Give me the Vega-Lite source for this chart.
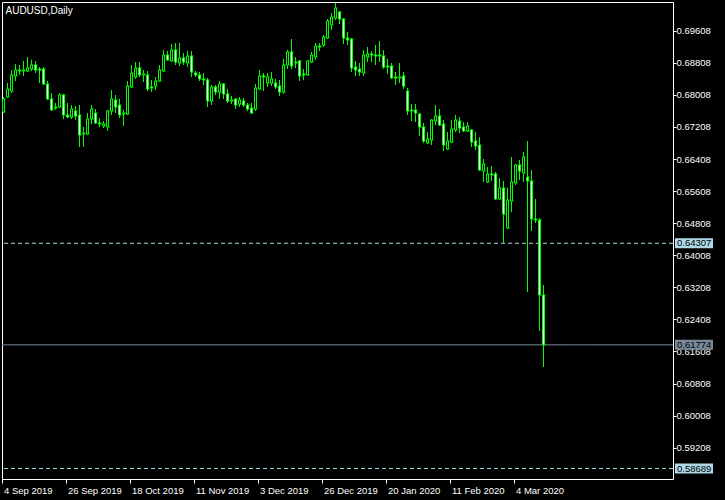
{
  "$schema": "https://vega.github.io/schema/vega-lite/v6.json",
  "width": 671,
  "height": 477,
  "autosize": {"type": "none"},
  "padding": {"left": 2, "top": 2, "right": 52, "bottom": 21},
  "background": "#000000",
  "title": {"text": "AUDUSD,Daily", "anchor": "start", "offset": -11, "dx": 4, "dy": 11, "baseline": "alphabetic", "color": "#FFFFFF", "fontSize": 10, "fontWeight": "normal", "font": "Liberation Sans, sans-serif"},
  "config": {
    "view": {"stroke": "#FFFFFF", "strokeWidth": 1, "fill": "#000000"},
    "axis": {"domain": false, "grid": false, "labelColor": "#FFFFFF", "tickColor": "#FFFFFF", "tickWidth": 1, "labelFont": "Liberation Sans, sans-serif", "labelFontSize": 9.5, "titleColor": "#FFFFFF", "labelOverlap": false},
    "axisX": {"tickSize": 4, "labelAlign": "left", "labelBaseline": "top", "labelPadding": 2, "labelAngle": 0, "labelOverlap": false, "labelFlush": false, "bandPosition": 0.2},
    "axisY": {"tickSize": 3, "labelPadding": 0, "labelOverlap": false, "labelFlush": false, "tickCount": 30}
  },
  "datasets": {
    "levels": [
      {"level": 0.64307, "line": "dash"},
      {"level": 0.61774, "line": "solid"},
      {"level": 0.58689, "line": "dash"}
    ],
    "candles": [
      {"date":"2019-09-04","open":0.67581,"high":0.67955,"low":0.67556,"close":0.67905},
      {"date":"2019-09-05","open":0.67955,"high":0.68304,"low":0.67930,"close":0.68154},
      {"date":"2019-09-06","open":0.68104,"high":0.68628,"low":0.68054,"close":0.68504},
      {"date":"2019-09-09","open":0.68479,"high":0.68778,"low":0.68354,"close":0.68628},
      {"date":"2019-09-10","open":0.68628,"high":0.68753,"low":0.68504,"close":0.68603},
      {"date":"2019-09-11","open":0.68603,"high":0.68853,"low":0.68479,"close":0.68628},
      {"date":"2019-09-12","open":0.68603,"high":0.68952,"low":0.68578,"close":0.68678},
      {"date":"2019-09-13","open":0.68653,"high":0.68878,"low":0.68603,"close":0.68753},
      {"date":"2019-09-16","open":0.68753,"high":0.68853,"low":0.68553,"close":0.68628},
      {"date":"2019-09-17","open":0.68653,"high":0.68703,"low":0.68304,"close":0.68628},
      {"date":"2019-09-18","open":0.68653,"high":0.68703,"low":0.68254,"close":0.68279},
      {"date":"2019-09-19","open":0.68279,"high":0.68354,"low":0.67880,"close":0.67905},
      {"date":"2019-09-20","open":0.67905,"high":0.68054,"low":0.67606,"close":0.67631},
      {"date":"2019-09-23","open":0.67680,"high":0.67805,"low":0.67631,"close":0.67705},
      {"date":"2019-09-24","open":0.67705,"high":0.68054,"low":0.67680,"close":0.68005},
      {"date":"2019-09-25","open":0.68005,"high":0.68030,"low":0.67406,"close":0.67506},
      {"date":"2019-09-26","open":0.67506,"high":0.67805,"low":0.67431,"close":0.67456},
      {"date":"2019-09-27","open":0.67456,"high":0.67755,"low":0.67406,"close":0.67655},
      {"date":"2019-09-30","open":0.67606,"high":0.67730,"low":0.67381,"close":0.67481},
      {"date":"2019-10-01","open":0.67506,"high":0.67755,"low":0.66708,"close":0.67007},
      {"date":"2019-10-02","open":0.67032,"high":0.67206,"low":0.66708,"close":0.67057},
      {"date":"2019-10-03","open":0.67032,"high":0.67556,"low":0.67007,"close":0.67406},
      {"date":"2019-10-04","open":0.67406,"high":0.67755,"low":0.67281,"close":0.67655},
      {"date":"2019-10-07","open":0.67556,"high":0.67655,"low":0.67281,"close":0.67306},
      {"date":"2019-10-08","open":0.67306,"high":0.67431,"low":0.67206,"close":0.67281},
      {"date":"2019-10-09","open":0.67231,"high":0.67356,"low":0.67181,"close":0.67281},
      {"date":"2019-10-10","open":0.67206,"high":0.67631,"low":0.67107,"close":0.67606},
      {"date":"2019-10-11","open":0.67606,"high":0.68129,"low":0.67506,"close":0.67905},
      {"date":"2019-10-14","open":0.67880,"high":0.68005,"low":0.67556,"close":0.67705},
      {"date":"2019-10-15","open":0.67755,"high":0.67905,"low":0.67431,"close":0.67506},
      {"date":"2019-10-16","open":0.67531,"high":0.67631,"low":0.67231,"close":0.67556},
      {"date":"2019-10-17","open":0.67531,"high":0.68354,"low":0.67506,"close":0.68229},
      {"date":"2019-10-18","open":0.68204,"high":0.68753,"low":0.68179,"close":0.68553},
      {"date":"2019-10-21","open":0.68454,"high":0.68828,"low":0.68404,"close":0.68678},
      {"date":"2019-10-22","open":0.68678,"high":0.68828,"low":0.68454,"close":0.68504},
      {"date":"2019-10-23","open":0.68504,"high":0.68628,"low":0.68329,"close":0.68528},
      {"date":"2019-10-24","open":0.68504,"high":0.68603,"low":0.68104,"close":0.68154},
      {"date":"2019-10-25","open":0.68204,"high":0.68379,"low":0.68079,"close":0.68179},
      {"date":"2019-10-28","open":0.68229,"high":0.68454,"low":0.68129,"close":0.68354},
      {"date":"2019-10-29","open":0.68354,"high":0.68753,"low":0.68329,"close":0.68628},
      {"date":"2019-10-30","open":0.68603,"high":0.69127,"low":0.68578,"close":0.69002},
      {"date":"2019-10-31","open":0.69002,"high":0.69102,"low":0.68853,"close":0.68878},
      {"date":"2019-11-01","open":0.68853,"high":0.69277,"low":0.68828,"close":0.69127},
      {"date":"2019-11-04","open":0.69127,"high":0.69302,"low":0.68753,"close":0.68828},
      {"date":"2019-11-05","open":0.68803,"high":0.69302,"low":0.68728,"close":0.68927},
      {"date":"2019-11-06","open":0.68927,"high":0.69052,"low":0.68753,"close":0.68828},
      {"date":"2019-11-07","open":0.68803,"high":0.69102,"low":0.68703,"close":0.68977},
      {"date":"2019-11-08","open":0.68977,"high":0.69102,"low":0.68454,"close":0.68578},
      {"date":"2019-11-11","open":0.68553,"high":0.68603,"low":0.68454,"close":0.68504},
      {"date":"2019-11-12","open":0.68504,"high":0.68578,"low":0.68354,"close":0.68404},
      {"date":"2019-11-13","open":0.68404,"high":0.68553,"low":0.68254,"close":0.68379},
      {"date":"2019-11-14","open":0.68379,"high":0.68429,"low":0.67705,"close":0.67855},
      {"date":"2019-11-15","open":0.67855,"high":0.68254,"low":0.67755,"close":0.68204},
      {"date":"2019-11-18","open":0.68204,"high":0.68254,"low":0.68005,"close":0.68079},
      {"date":"2019-11-19","open":0.68079,"high":0.68354,"low":0.67905,"close":0.68279},
      {"date":"2019-11-20","open":0.68279,"high":0.68304,"low":0.67905,"close":0.68030},
      {"date":"2019-11-21","open":0.68030,"high":0.68154,"low":0.67805,"close":0.67855},
      {"date":"2019-11-22","open":0.67855,"high":0.67980,"low":0.67780,"close":0.67880},
      {"date":"2019-11-25","open":0.67905,"high":0.67930,"low":0.67655,"close":0.67755},
      {"date":"2019-11-26","open":0.67780,"high":0.67955,"low":0.67705,"close":0.67880},
      {"date":"2019-11-27","open":0.67855,"high":0.67930,"low":0.67705,"close":0.67755},
      {"date":"2019-11-28","open":0.67755,"high":0.67805,"low":0.67606,"close":0.67655},
      {"date":"2019-11-29","open":0.67680,"high":0.67805,"low":0.67531,"close":0.67556},
      {"date":"2019-12-02","open":0.67655,"high":0.68279,"low":0.67606,"close":0.68179},
      {"date":"2019-12-03","open":0.68154,"high":0.68628,"low":0.68129,"close":0.68479},
      {"date":"2019-12-04","open":0.68479,"high":0.68553,"low":0.68104,"close":0.68454},
      {"date":"2019-12-05","open":0.68304,"high":0.68553,"low":0.68204,"close":0.68454},
      {"date":"2019-12-06","open":0.68304,"high":0.68578,"low":0.68229,"close":0.68404},
      {"date":"2019-12-09","open":0.68304,"high":0.68404,"low":0.68154,"close":0.68204},
      {"date":"2019-12-10","open":0.68229,"high":0.68379,"low":0.67980,"close":0.68079},
      {"date":"2019-12-11","open":0.68079,"high":0.68903,"low":0.68030,"close":0.68753},
      {"date":"2019-12-12","open":0.68753,"high":0.69127,"low":0.68653,"close":0.69077},
      {"date":"2019-12-13","open":0.69077,"high":0.69401,"low":0.68653,"close":0.68728},
      {"date":"2019-12-16","open":0.68803,"high":0.68952,"low":0.68678,"close":0.68828},
      {"date":"2019-12-17","open":0.68853,"high":0.68878,"low":0.68354,"close":0.68479},
      {"date":"2019-12-18","open":0.68528,"high":0.68653,"low":0.68379,"close":0.68504},
      {"date":"2019-12-19","open":0.68504,"high":0.68878,"low":0.68479,"close":0.68853},
      {"date":"2019-12-20","open":0.68828,"high":0.69077,"low":0.68803,"close":0.69002},
      {"date":"2019-12-23","open":0.68952,"high":0.69302,"low":0.68878,"close":0.69227},
      {"date":"2019-12-24","open":0.69227,"high":0.69302,"low":0.69102,"close":0.69202},
      {"date":"2019-12-26","open":0.69252,"high":0.69501,"low":0.69202,"close":0.69451},
      {"date":"2019-12-27","open":0.69426,"high":0.69900,"low":0.69401,"close":0.69850},
      {"date":"2019-12-30","open":0.69751,"high":0.70050,"low":0.69626,"close":0.69950},
      {"date":"2019-12-31","open":0.69925,"high":0.70299,"low":0.69875,"close":0.70174},
      {"date":"2020-01-02","open":0.70075,"high":0.70100,"low":0.69775,"close":0.69900},
      {"date":"2020-01-03","open":0.69900,"high":0.69925,"low":0.69277,"close":0.69426},
      {"date":"2020-01-06","open":0.69426,"high":0.69576,"low":0.69252,"close":0.69376},
      {"date":"2020-01-07","open":0.69401,"high":0.69426,"low":0.68578,"close":0.68678},
      {"date":"2020-01-08","open":0.68703,"high":0.68853,"low":0.68479,"close":0.68628},
      {"date":"2020-01-09","open":0.68653,"high":0.68803,"low":0.68479,"close":0.68578},
      {"date":"2020-01-10","open":0.68553,"high":0.69127,"low":0.68479,"close":0.69002},
      {"date":"2020-01-13","open":0.68952,"high":0.69202,"low":0.68828,"close":0.69027},
      {"date":"2020-01-14","open":0.69027,"high":0.69102,"low":0.68828,"close":0.69002},
      {"date":"2020-01-15","open":0.69002,"high":0.69252,"low":0.68753,"close":0.68977},
      {"date":"2020-01-16","open":0.69002,"high":0.69351,"low":0.68828,"close":0.68977},
      {"date":"2020-01-17","open":0.68977,"high":0.69127,"low":0.68653,"close":0.68703},
      {"date":"2020-01-20","open":0.68728,"high":0.68903,"low":0.68528,"close":0.68703},
      {"date":"2020-01-21","open":0.68728,"high":0.68803,"low":0.68404,"close":0.68429},
      {"date":"2020-01-22","open":0.68454,"high":0.68578,"low":0.68254,"close":0.68429},
      {"date":"2020-01-23","open":0.68429,"high":0.68803,"low":0.68304,"close":0.68454},
      {"date":"2020-01-24","open":0.68479,"high":0.68578,"low":0.68154,"close":0.68229},
      {"date":"2020-01-27","open":0.68104,"high":0.68179,"low":0.67506,"close":0.67606},
      {"date":"2020-01-28","open":0.67631,"high":0.67780,"low":0.67356,"close":0.67606},
      {"date":"2020-01-29","open":0.67631,"high":0.67780,"low":0.67331,"close":0.67556},
      {"date":"2020-01-30","open":0.67531,"high":0.67556,"low":0.66982,"close":0.67206},
      {"date":"2020-01-31","open":0.67206,"high":0.67306,"low":0.66807,"close":0.66857},
      {"date":"2020-02-03","open":0.66807,"high":0.67082,"low":0.66782,"close":0.66907},
      {"date":"2020-02-04","open":0.66882,"high":0.67406,"low":0.66757,"close":0.67381},
      {"date":"2020-02-05","open":0.67356,"high":0.67755,"low":0.67256,"close":0.67481},
      {"date":"2020-02-06","open":0.67481,"high":0.67655,"low":0.67231,"close":0.67256},
      {"date":"2020-02-07","open":0.67281,"high":0.67381,"low":0.66608,"close":0.66757},
      {"date":"2020-02-10","open":0.66658,"high":0.67082,"low":0.66633,"close":0.66857},
      {"date":"2020-02-11","open":0.66832,"high":0.67381,"low":0.66807,"close":0.67157},
      {"date":"2020-02-12","open":0.67132,"high":0.67506,"low":0.67082,"close":0.67381},
      {"date":"2020-02-13","open":0.67356,"high":0.67456,"low":0.67057,"close":0.67181},
      {"date":"2020-02-14","open":0.67206,"high":0.67331,"low":0.67082,"close":0.67107},
      {"date":"2020-02-17","open":0.67107,"high":0.67331,"low":0.67082,"close":0.67231},
      {"date":"2020-02-18","open":0.67132,"high":0.67157,"low":0.66708,"close":0.66832},
      {"date":"2020-02-19","open":0.66857,"high":0.67082,"low":0.66633,"close":0.66732},
      {"date":"2020-02-20","open":0.66757,"high":0.66957,"low":0.66109,"close":0.66134},
      {"date":"2020-02-21","open":0.66109,"high":0.66409,"low":0.65835,"close":0.66284},
      {"date":"2020-02-24","open":0.65835,"high":0.66209,"low":0.65810,"close":0.66035},
      {"date":"2020-02-25","open":0.66035,"high":0.66234,"low":0.65860,"close":0.66010},
      {"date":"2020-02-26","open":0.66035,"high":0.66084,"low":0.65386,"close":0.65411},
      {"date":"2020-02-27","open":0.65411,"high":0.65935,"low":0.65386,"close":0.65685},
      {"date":"2020-02-28","open":0.65685,"high":0.65860,"low":0.64307,"close":0.65037},
      {"date":"2020-03-02","open":0.64688,"high":0.65685,"low":0.64663,"close":0.65386},
      {"date":"2020-03-03","open":0.65361,"high":0.66458,"low":0.65087,"close":0.65835},
      {"date":"2020-03-04","open":0.65810,"high":0.66284,"low":0.65760,"close":0.66259},
      {"date":"2020-03-05","open":0.66259,"high":0.66384,"low":0.65885,"close":0.66109},
      {"date":"2020-03-06","open":0.66059,"high":0.66583,"low":0.65835,"close":0.66458},
      {"date":"2020-03-09","open":0.65960,"high":0.66857,"low":0.63091,"close":0.65860},
      {"date":"2020-03-10","open":0.65860,"high":0.66134,"low":0.64613,"close":0.64912},
      {"date":"2020-03-11","open":0.64912,"high":0.65411,"low":0.64812,"close":0.64887},
      {"date":"2020-03-12","open":0.64887,"high":0.64937,"low":0.62119,"close":0.63017},
      {"date":"2020-03-13","open":0.63017,"high":0.63266,"low":0.61221,"close":0.61774}
    ]
  },
  "layer": [
    {
      "data": {"name": "levels"},
      "mark": {"type": "rule", "strokeWidth": 1},
      "encoding": {
        "y": {"field": "level", "type": "quantitative", "title": null,
              "scale": {"domain": [0.58428, 0.70324], "nice": false, "zero": false},
              "axis": {"orient": "right", "format": ".5f", "tickCount": 30, "labelOverlap": false, "labelFlush": false, "values": [0.69608, 0.68808, 0.68008, 0.67208, 0.66408, 0.65608, 0.64808, 0.64008, 0.63208, 0.62408, 0.61608, 0.60808, 0.60008, 0.59208]}},
        "color": {"field": "line", "type": "nominal", "legend": null, "scale": {"domain": ["dash", "solid"], "range": ["#ADD8E6", "#778899"]}},
        "strokeDash": {"field": "line", "type": "nominal", "legend": null, "scale": {"domain": ["dash", "solid"], "range": [[4, 3], [1, 0]]}}
      }
    },
    {
      "data": {"name": "candles"},
      "mark": {"type": "rule", "color": "#00FF00", "strokeWidth": 1},
      "encoding": {
        "x": {"field": "date", "type": "ordinal", "title": null, "bandPosition": 0.375,
              "scale": {"type": "band", "range": [0, 544], "round": false, "paddingInner": 0, "paddingOuter": 0},
              "axis": {"values": ["2019-09-04", "2019-09-26", "2019-10-18", "2019-11-11", "2019-12-03", "2019-12-26", "2020-01-20", "2020-02-11", "2020-03-04"], "labelExpr": "utcFormat(toDate(datum.value), '%-d %b %Y')"}},
        "y": {"field": "low", "type": "quantitative", "title": null, "scale": {"domain": [0.58428, 0.70324], "nice": false, "zero": false}},
        "y2": {"field": "high"}
      }
    },
    {
      "data": {"name": "candles"},
      "mark": {"type": "rule", "color": "#00FF00", "strokeWidth": 3, "strokeCap": "butt"},
      "encoding": {
        "x": {"field": "date", "type": "ordinal", "title": null, "bandPosition": 0.375, "scale": {"type": "band", "range": [0, 544], "round": false, "paddingInner": 0, "paddingOuter": 0}},
        "y": {"field": "open", "type": "quantitative", "title": null, "scale": {"domain": [0.58428, 0.70324], "nice": false, "zero": false}},
        "y2": {"field": "close"}
      }
    },
    {
      "data": {"name": "candles"},
      "mark": {"type": "rule", "strokeWidth": 1, "strokeCap": "butt"},
      "encoding": {
        "x": {"field": "date", "type": "ordinal", "title": null, "bandPosition": 0.375, "scale": {"type": "band", "range": [0, 544], "round": false, "paddingInner": 0, "paddingOuter": 0}},
        "y": {"field": "open", "type": "quantitative", "title": null, "scale": {"domain": [0.58428, 0.70324], "nice": false, "zero": false}},
        "y2": {"field": "close"},
        "color": {"condition": {"test": "datum.close < datum.open", "value": "#FFFFFF"}, "value": "#000000"}
      }
    },
    {
      "data": {"name": "candles"},
      "mark": {"type": "tick", "size": 3, "thickness": 1, "color": "#00FF00", "opacity": 1},
      "encoding": {
        "x": {"field": "date", "type": "ordinal", "title": null, "bandPosition": 0.375, "scale": {"type": "band", "range": [0, 544], "round": false, "paddingInner": 0, "paddingOuter": 0}},
        "y": {"field": "open", "type": "quantitative", "title": null, "scale": {"domain": [0.58428, 0.70324], "nice": false, "zero": false}}
      }
    },
    {
      "data": {"name": "candles"},
      "mark": {"type": "tick", "size": 3, "thickness": 1, "color": "#00FF00", "opacity": 1},
      "encoding": {
        "x": {"field": "date", "type": "ordinal", "title": null, "bandPosition": 0.375, "scale": {"type": "band", "range": [0, 544], "round": false, "paddingInner": 0, "paddingOuter": 0}},
        "y": {"field": "close", "type": "quantitative", "title": null, "scale": {"domain": [0.58428, 0.70324], "nice": false, "zero": false}}
      }
    },
    {
      "data": {"name": "levels"},
      "mark": {"type": "point", "shape": "M0.1,-0.25H2V0.25H0.1Z", "size": 1600, "filled": true, "opacity": 1, "strokeWidth": 0},
      "encoding": {
        "x": {"value": "width"},
        "y": {"field": "level", "type": "quantitative", "title": null, "scale": {"domain": [0.58428, 0.70324], "nice": false, "zero": false}},
        "color": {"field": "line", "type": "nominal", "legend": null, "scale": {"domain": ["dash", "solid"], "range": ["#ADD8E6", "#778899"]}}
      }
    },
    {
      "data": {"name": "levels"},
      "mark": {"type": "text", "align": "left", "baseline": "middle", "dx": 4, "fontSize": 9.5, "font": "Liberation Sans, sans-serif", "color": "#000000"},
      "encoding": {
        "x": {"value": "width"},
        "y": {"field": "level", "type": "quantitative", "title": null, "scale": {"domain": [0.58428, 0.70324], "nice": false, "zero": false}},
        "text": {"field": "level", "type": "quantitative", "format": ".5f"}
      }
    }
  ]
}
